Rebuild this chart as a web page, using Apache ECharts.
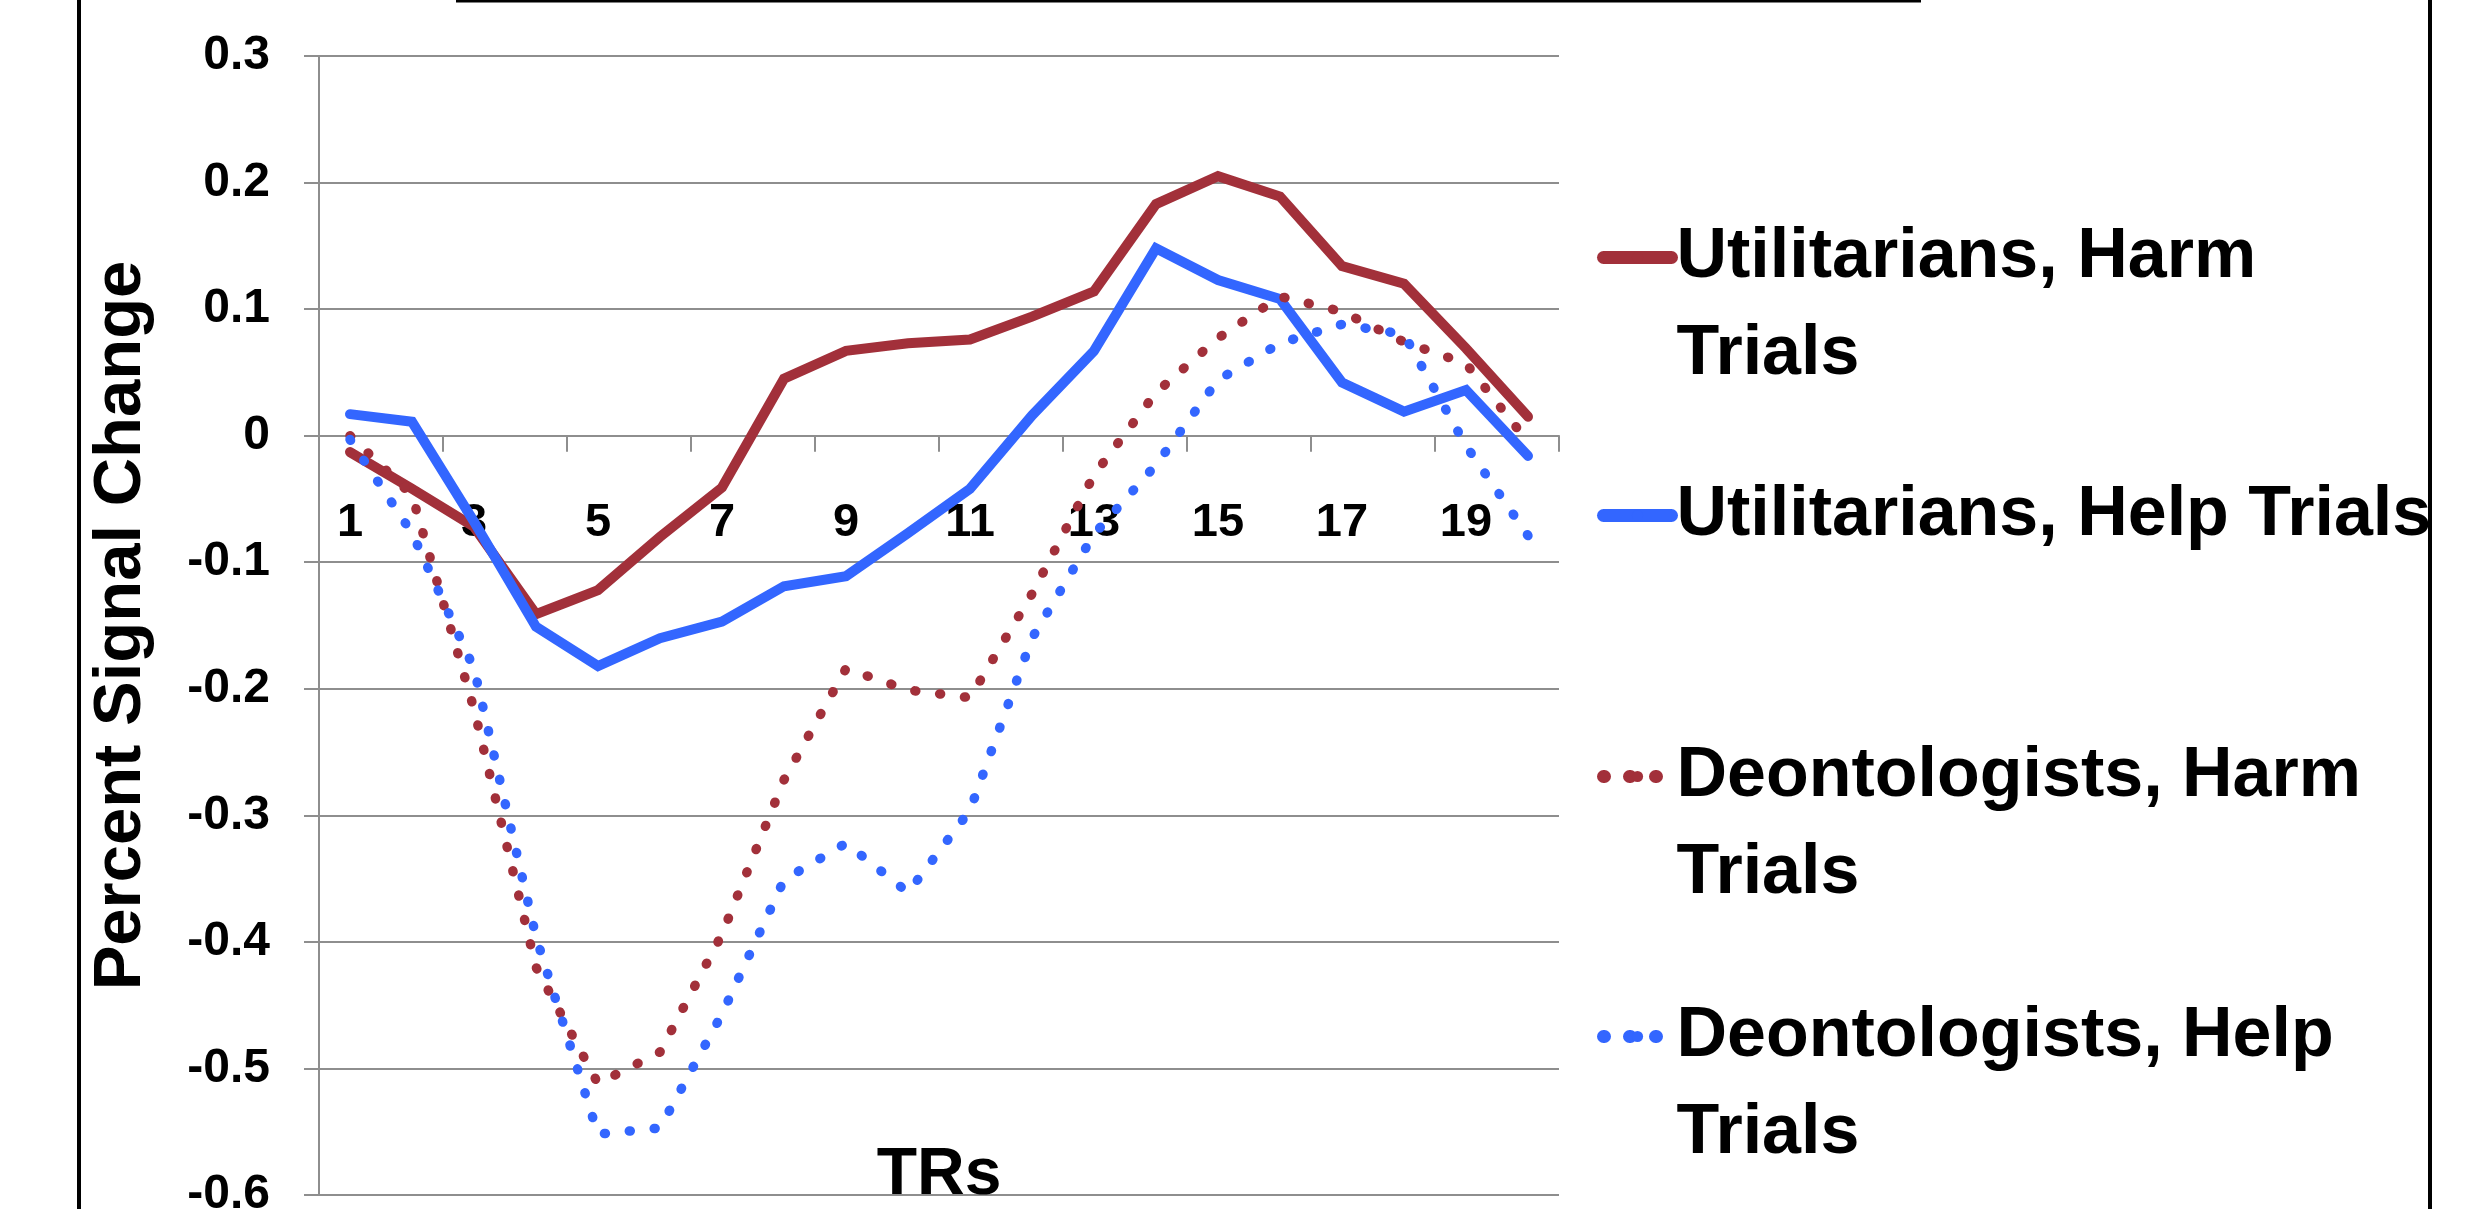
<!DOCTYPE html>
<html>
<head>
<meta charset="utf-8">
<title>Percent Signal Change by TR</title>
<script src="https://cdn.jsdelivr.net/npm/echarts@6/dist/echarts.min.js"></script>
<style>
  html, body { margin: 0; padding: 0; background: #fff; }
  #chart { width: 2471px; height: 1209px; }
</style>
</head>
<body>
<div id="chart"></div>
<script>
  // TRs 1..20
  const trs = ['1', '2', '3', '4', '5', '6', '7', '8', '9', '10',
               '11', '12', '13', '14', '15', '16', '17', '18', '19', '20'];

  // values
  const utilHarm = [-0.013, -0.042, -0.072, -0.141, -0.122, -0.080, -0.041, 0.045, 0.067, 0.073,
                    0.076, 0.094, 0.114, 0.183, 0.205, 0.189, 0.134, 0.120, 0.069, 0.015];
  const utilHelp = [0.017, 0.011, -0.068, -0.151, -0.182, -0.160, -0.147, -0.119, -0.111, -0.077,
                    -0.042, 0.016, 0.067, 0.148, 0.123, 0.108, 0.042, 0.019, 0.036, -0.016];
  const deonHarm = [0.000, -0.047, -0.216, -0.420, -0.512, -0.487, -0.394, -0.272, -0.184, -0.201,
                    -0.207, -0.125, -0.031, 0.034, 0.077, 0.110, 0.098, 0.074, 0.057, -0.005];
  const deonHelp = [-0.003, -0.077, -0.184, -0.396, -0.552, -0.547, -0.457, -0.351, -0.322, -0.361,
                    -0.296, -0.160, -0.078, -0.023, 0.044, 0.073, 0.088, 0.080, -0.008, -0.079];

  const seriesNames = ['Utilitarians, Harm Trials', 'Utilitarians, Help Trials',
                       'Deontologists, Harm Trials', 'Deontologists, Help Trials'];
  // legend wording as wrapped on the slide; the leading blank line keeps
  // the legend symbol level with the first line of text
  const legendLabels = ['\nUtilitarians, Harm\nTrials', 'Utilitarians, Help Trials',
                        '\nDeontologists, Harm\nTrials', '\nDeontologists, Help\nTrials'];

  const RED = '#A2303A';
  const BLUE = '#3366FF';
  const GRID = '#8E8E8E';
  const FONT = '"Liberation Sans", Arial, sans-serif';
  const DOTS = [1, 24];

  const chart = echarts.init(document.getElementById('chart'), null, { renderer: 'canvas' });

  // one legend block per entry (Excel gives each entry the same height)
  const legendTops = [112, 467, 631, 891];
  const legends = seriesNames.map((name, i) => ({
    data: [name],
    orient: 'vertical',
    left: 1597,
    top: legendTops[i],
    padding: 0,
    itemWidth: 68,
    itemHeight: 14,
    selectedMode: false,
    formatter: () => legendLabels[i],
    textStyle: {
      fontFamily: FONT,
      fontWeight: 'bold',
      fontSize: 70,
      lineHeight: 97,
      color: '#000'
    },
    lineStyle: {
      width: 13,
      cap: 'round',
      type: i >= 2 ? [1, 25] : 'solid'
    }
  }));

  const option = {
    backgroundColor: '#fff',
    animation: false,
    grid: { left: 319, right: 912, top: 56, bottom: 14, outerBoundsMode: 'none' },
    legend: legends,
    xAxis: {
      type: 'category',
      data: trs,
      boundaryGap: true,
      axisLine: { onZero: true, lineStyle: { color: GRID, width: 2 } },
      axisTick: { show: true, length: 16, lineStyle: { color: GRID, width: 2 } },
      // labels and name are measured from the grid bottom, so pull them up
      axisLabel: {
        interval: 1,
        margin: -695,
        color: '#000',
        fontFamily: FONT,
        fontWeight: 'bold',
        fontSize: 47
      },
      splitLine: { show: false },
      name: 'TRs',
      nameLocation: 'middle',
      nameGap: -52,
      nameTextStyle: { color: '#000', fontFamily: FONT, fontWeight: 'bold', fontSize: 66 }
    },
    yAxis: {
      type: 'value',
      min: -0.6,
      max: 0.3,
      interval: 0.1,
      axisLine: { show: true, lineStyle: { color: GRID, width: 2 } },
      axisTick: { show: true, length: 15, lineStyle: { color: GRID, width: 2 } },
      axisLabel: {
        margin: 49,
        color: '#000',
        fontFamily: FONT,
        fontWeight: 'bold',
        fontSize: 48,
        formatter: v => (Math.abs(v) < 1e-9 ? '0' : v.toFixed(1))
      },
      splitLine: { show: true, lineStyle: { color: GRID, width: 2 } },
      name: 'Percent Signal Change',
      nameLocation: 'middle',
      nameGap: 164,
      nameRotate: 90,
      nameTextStyle: { color: '#000', fontFamily: FONT, fontWeight: 'bold', fontSize: 67 }
    },
    series: [
      {
        name: seriesNames[0], type: 'line', data: utilHarm, symbol: 'none',
        lineStyle: { color: RED, width: 10, cap: 'round', join: 'miter' },
        itemStyle: { color: RED }
      },
      {
        name: seriesNames[1], type: 'line', data: utilHelp, symbol: 'none',
        lineStyle: { color: BLUE, width: 10, cap: 'round', join: 'miter' },
        itemStyle: { color: BLUE }
      },
      {
        name: seriesNames[2], type: 'line', data: deonHarm, symbol: 'none',
        lineStyle: { color: RED, width: 9.5, type: DOTS, cap: 'round', join: 'round' },
        itemStyle: { color: RED }
      },
      {
        name: seriesNames[3], type: 'line', data: deonHelp, symbol: 'none',
        lineStyle: { color: BLUE, width: 9.5, type: DOTS, cap: 'round', join: 'round' },
        itemStyle: { color: BLUE }
      }
    ],
    // page frame from the original slide
    graphic: [
      { type: 'line', silent: true, shape: { x1: 79, y1: 0, x2: 79, y2: 1209 },
        style: { stroke: '#000', lineWidth: 4 } },
      { type: 'line', silent: true, shape: { x1: 2430, y1: 0, x2: 2430, y2: 1209 },
        style: { stroke: '#000', lineWidth: 4 } },
      { type: 'line', silent: true, shape: { x1: 456, y1: 1, x2: 1921, y2: 1 },
        style: { stroke: '#000', lineWidth: 3 } }
    ]
  };

  chart.setOption(option);
  window.addEventListener('resize', chart.resize);
</script>
</body>
</html>
